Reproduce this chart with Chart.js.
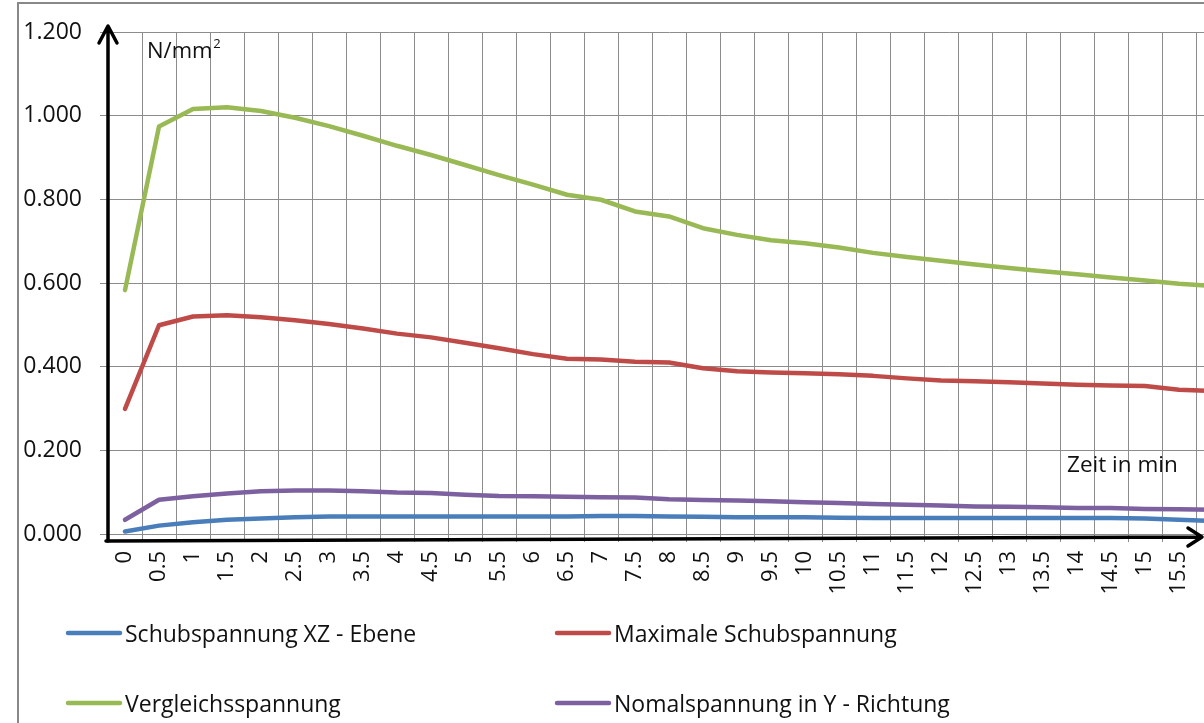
<!DOCTYPE html>
<html>
<head>
<meta charset="utf-8">
<script src="https://cdn.jsdelivr.net/npm/chart.js@4.4.1/dist/chart.umd.min.js"></script>
<style>
  html, body { margin: 0; padding: 0; background: #fff; overflow: hidden; width: 1204px; height: 723px; }
  #wrap { position: absolute; left: 0; top: 0; width: 1240px; height: 723px; }
</style>
</head>
<body>
<div id="wrap"><canvas id="c" width="1240" height="723"></canvas></div>
<script>
// Zeit in min (Kategorien der x-Achse)
const timeLabels = ['0','0.5','1','1.5','2','2.5','3','3.5','4','4.5','5','5.5','6','6.5','7','7.5',
                    '8','8.5','9','9.5','10','10.5','11','11.5','12','12.5','13','13.5','14','14.5','15','15.5','16'];

// Spannungen in N/mm²
const schubXZ = [0.006,0.020,0.028,0.034,0.037,0.040,0.042,0.042,0.042,0.042,0.042,0.042,0.042,0.042,0.043,0.043,
                 0.042,0.041,0.040,0.040,0.040,0.039,0.038,0.038,0.038,0.038,0.038,0.038,0.038,0.038,0.037,0.034,0.031];
const maxSchub = [0.299,0.499,0.520,0.523,0.518,0.511,0.502,0.491,0.479,0.470,0.457,0.444,0.430,0.419,0.417,0.412,
                  0.410,0.396,0.389,0.386,0.384,0.382,0.378,0.372,0.367,0.365,0.363,0.360,0.357,0.355,0.354,0.345,0.342];
const vergleich = [0.583,0.974,1.016,1.020,1.011,0.995,0.975,0.952,0.928,0.906,0.882,0.858,0.835,0.811,0.799,0.771,
                   0.759,0.731,0.715,0.702,0.695,0.685,0.672,0.662,0.653,0.644,0.636,0.628,0.621,0.613,0.606,0.598,0.593];
const normalY = [0.034,0.082,0.090,0.097,0.102,0.104,0.104,0.102,0.099,0.098,0.094,0.091,0.090,0.089,0.088,0.087,
                 0.083,0.081,0.080,0.078,0.076,0.074,0.072,0.070,0.068,0.066,0.065,0.064,0.062,0.062,0.060,0.059,0.058];

// y-Achse: 0.000 … 1.200
const yMin = 0, yMax = 1.2, yStep = 0.2;
// Beschriftete Kategorien der x-Achse (die letzte liegt hinter dem Bildrand)
const labelledCount = 32;

const FONT = "'Open Sans', sans-serif";
const TEXT = '#111';
const GRID = '#8c8c8c';

const seriesNames = ['Schubspannung XZ - Ebene', 'Maximale Schubspannung', 'Vergleichsspannung', 'Nomalspannung in Y - Richtung'];
const seriesColors = ['#4A7EBB', '#BE4B48', '#98B954', '#7D60A0'];
const seriesData = [schubXZ, maxSchub, vergleich, normalY];

// Rahmen, Achsenpfeile, Einheiten und Legende
const decor = {
  id: 'decor',
  beforeDraw(chart) {
    const c = chart.ctx;
    c.save();
    c.fillStyle = '#888';
    c.fillRect(17, 2, 2, 723);
    c.fillRect(17, 2, 1240, 2);
    c.restore();
  },
  afterDraw(chart) {
    const c = chart.ctx;
    c.save();
    c.strokeStyle = '#000';
    c.lineWidth = 3.5;
    c.lineCap = 'round';
    c.lineJoin = 'round';
    // y-Pfeil
    c.beginPath();
    c.moveTo(108, 541); c.lineTo(108, 27);
    c.moveTo(99, 43); c.lineTo(108, 26); c.lineTo(117, 43);
    c.stroke();
    // x-Pfeil
    c.beginPath();
    c.moveTo(106, 541); c.lineTo(1201, 537);
    c.moveTo(1188, 528); c.lineTo(1202, 537); c.lineTo(1188, 546);
    c.stroke();

    c.fillStyle = TEXT;
    c.textBaseline = 'alphabetic';
    c.textAlign = 'left';
    c.font = '22px ' + FONT;
    c.fillText('N/mm', 147, 58);
    const w = c.measureText('N/mm').width;
    c.font = '13px ' + FONT;
    c.fillText('2', 147 + w + 1, 48);
    c.font = '22.5px ' + FONT;
    c.fillText('Zeit in min', 1067, 472);

    // Legende (2 Spalten)
    const pos = [[66, 633], [555, 633], [66, 703], [555, 703]];
    chart.data.datasets.forEach((ds, i) => {
      const [x, y] = pos[i];
      c.strokeStyle = ds.borderColor;
      c.lineWidth = 4.5;
      c.lineCap = 'round';
      c.beginPath();
      c.moveTo(x + 2, y); c.lineTo(x + 54, y);
      c.stroke();
      c.fillStyle = TEXT;
      c.font = '23px ' + FONT;
      c.fillText(ds.label, x + 59, y + 9);
    });
    c.restore();
  }
};

new Chart(document.getElementById('c'), {
  type: 'line',
  data: {
    labels: timeLabels,
    datasets: seriesNames.map((name, i) => ({
      label: name,
      data: seriesData[i],
      borderColor: seriesColors[i],
      backgroundColor: seriesColors[i],
      fill: false
    }))
  },
  options: {
    responsive: false,
    devicePixelRatio: 1,
    animation: false,
    layout: { padding: { left: 0, top: 32, right: 10, bottom: 0 } },
    plugins: { legend: { display: false }, tooltip: { enabled: false } },
    elements: {
      point: { radius: 0, hoverRadius: 0 },
      line: { borderWidth: 4.5, tension: 0, borderCapStyle: 'round', borderJoinStyle: 'round' }
    },
    scales: {
      x: {
        offset: true,
        grid: { offset: true, color: GRID, lineWidth: 1, tickLength: 8, drawTicks: true },
        border: { color: GRID, width: 1 },
        ticks: { autoSkip: false, maxRotation: 90, minRotation: 90, padding: 9, color: TEXT, font: { family: FONT, size: 22 },
                 callback: (v, i) => (i < labelledCount ? timeLabels[i] : '') },
        afterFit(s) { s.height = 189; s.paddingLeft = 0; s.paddingRight = 0; }
      },
      y: {
        min: yMin, max: yMax,
        grid: { color: GRID, lineWidth: 1, tickLength: 8, drawTicks: true },
        border: { color: GRID, width: 1 },
        ticks: { stepSize: yStep, padding: 18, color: TEXT, font: { family: FONT, size: 23 },
                 callback: v => Number(v).toFixed(3) },
        afterFit(s) { s.width = 108; s.paddingTop = 0; s.paddingBottom = 0; }
      }
    }
  },
  plugins: [decor]
});
</script>
</body>
</html>
